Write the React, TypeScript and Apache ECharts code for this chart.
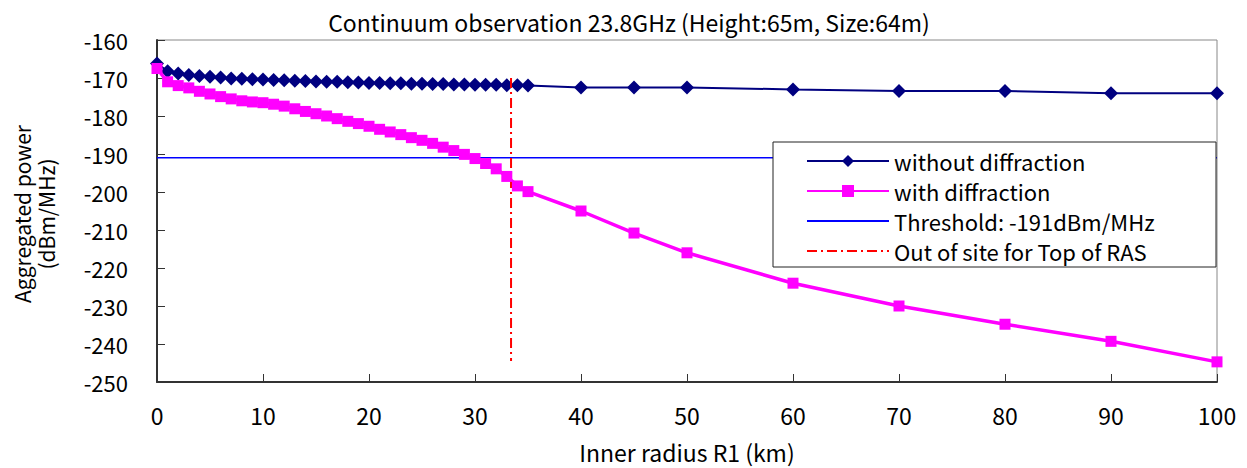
import React, { useEffect, useRef } from "react";
import * as echarts from "echarts";

const radiusKm = [
  0, 1, 2, 3, 4, 5, 6, 7, 8, 9, 10, 11, 12, 13, 14, 15, 16, 17, 18, 19, 20,
  21, 22, 23, 24, 25, 26, 27, 28, 29, 30, 31, 32, 33, 34, 35, 40, 45, 50, 60,
  70, 80, 90, 100,
];

const withoutDiffraction = [
  -166.2, -168.2, -168.8, -169.2, -169.5, -169.7, -169.9, -170.1, -170.2,
  -170.3, -170.4, -170.5, -170.6, -170.7, -170.8, -170.9, -171.0, -171.0,
  -171.1, -171.2, -171.3, -171.3, -171.4, -171.4, -171.5, -171.5, -171.6,
  -171.6, -171.7, -171.7, -171.8, -171.8, -171.8, -171.9, -171.9, -172.0,
  -172.5, -172.5, -172.5, -173.0, -173.4, -173.4, -174.0, -174.0,
];

const withDiffraction = [
  -167.5, -171.0, -172.0, -172.6, -173.5, -174.2, -174.9, -175.5, -176.0,
  -176.3, -176.5, -176.9, -177.4, -178.1, -178.8, -179.4, -180.0, -180.7,
  -181.4, -182.0, -182.7, -183.5, -184.2, -184.9, -185.7, -186.4, -187.2,
  -188.2, -189.1, -190.1, -191.2, -192.5, -193.9, -195.9, -198.4, -199.9,
  -205.0, -210.8, -216.0, -224.0, -230.0, -234.8, -239.3, -244.7,
];

const thresholdX = [0, 100];
const thresholdY = [-191, -191];
const outOfSiteX = [33.4, 33.4];
const outOfSiteY = [-170, -244.5];

const seriesNames = [
  "without diffraction",
  "with diffraction",
  "Threshold: -191dBm/MHz",
  "Out of site for Top of RAS",
];

const FONT = "'Noto Sans CJK JP', 'Noto Sans', sans-serif";

const pairs = (xs: number[], ys: number[]) => xs.map((x, i) => [x, ys[i]]);

export default function App() {
  const ref = useRef<HTMLDivElement>(null);
  useEffect(() => {
    if (!ref.current) return;
    const chart = echarts.init(ref.current, undefined, { renderer: "svg" });
    chart.setOption({
      animation: false,
      backgroundColor: "#fff",
      textStyle: { fontFamily: FONT },
      title: {
        text: "Continuum observation 23.8GHz (Height:65m, Size:64m)",
        left: 624,
        top: 5,
        textAlign: "center",
        textStyle: { fontSize: 23, fontWeight: "normal", color: "#000", fontFamily: FONT },
      },
      grid: {
        left: 157,
        right: 30,
        top: 40,
        bottom: 81,
        show: true,
        borderColor: "#888",
        borderWidth: 1,
        backgroundColor: "transparent",
      },
      xAxis: {
        type: "value",
        min: 0,
        max: 100,
        interval: 10,
        name: "Inner radius R1 (km)",
        nameLocation: "middle",
        nameGap: 58,
        nameTextStyle: { fontSize: 23, color: "#000", fontFamily: FONT },
        axisLine: { show: true, lineStyle: { color: "#333", width: 2 } },
        axisTick: { show: true, inside: true, length: 8, lineStyle: { color: "#333" } },
        axisLabel: { fontSize: 23, color: "#000", margin: 21, fontFamily: FONT },
        splitLine: { show: false },
      },
      yAxis: {
        type: "value",
        min: -250,
        max: -160,
        interval: 10,
        axisLine: { show: true, lineStyle: { color: "#333", width: 2 } },
        axisTick: { show: true, inside: true, length: 8, lineStyle: { color: "#333" } },
        axisLabel: { fontSize: 22, color: "#000", margin: 29, fontFamily: FONT },
        splitLine: { show: false },
      },
      legend: {
        orient: "vertical",
        left: 806,
        top: 150,
        padding: 0,
        itemWidth: 82,
        itemHeight: 15,
        itemGap: 8,
        data: [
          { name: seriesNames[0] },
          { name: seriesNames[1] },
          { name: seriesNames[2], itemStyle: { opacity: 0 } },
          { name: seriesNames[3], itemStyle: { opacity: 0 } },
        ],
        textStyle: { fontSize: 22, lineHeight: 22, color: "#000", fontFamily: FONT },
        z: 5,
      },
      graphic: [
        {
          type: "rect",
          z: 4,
          shape: { x: 773, y: 142, width: 443, height: 125 },
          style: { fill: "#fff", stroke: "#222", lineWidth: 1 },
        },
        {
          type: "text",
          x: 33.5,
          y: 214,
          rotation: Math.PI / 2,
          style: {
            text: "Aggregated power\n(dBm/MHz)",
            align: "center",
            verticalAlign: "middle",
            fontSize: 21,
            lineHeight: 24,
            fill: "#000",
            fontFamily: FONT,
          },
        },
      ],
      series: [
        {
          name: seriesNames[2],
          type: "line",
          data: pairs(thresholdX, thresholdY),
          symbol: "none",
          lineStyle: { color: "#0000ff", width: 1.5 },
          itemStyle: { color: "#0000ff" },
          z: 1,
        },
        {
          name: seriesNames[0],
          type: "line",
          data: pairs(radiusKm, withoutDiffraction),
          symbol: "diamond",
          symbolSize: 14,
          lineStyle: { color: "#000080", width: 2 },
          itemStyle: { color: "#000080" },
          z: 2,
        },
        {
          name: seriesNames[1],
          type: "line",
          data: pairs(radiusKm, withDiffraction),
          symbol: "rect",
          symbolSize: 11,
          lineStyle: { color: "#ff00ff", width: 3.5 },
          itemStyle: { color: "#ff00ff" },
          z: 3,
        },
        {
          name: seriesNames[3],
          type: "line",
          data: pairs(outOfSiteX, outOfSiteY),
          symbol: "none",
          lineStyle: { color: "#ff0000", width: 2, type: [10, 4, 2, 4] },
          itemStyle: { color: "#ff0000" },
          z: 3,
        },
      ],
    });
    return () => chart.dispose();
  }, []);
  return (
    <div
      ref={ref}
      style={{ position: "fixed", left: 0, top: 0, width: 1247, height: 468 }}
    />
  );
}
